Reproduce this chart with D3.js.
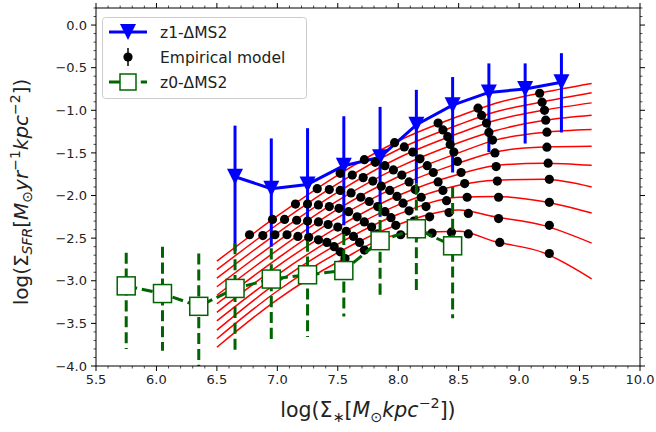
<!DOCTYPE html>
<html><head><meta charset="utf-8">
<script src="https://cdn.jsdelivr.net/npm/d3@7"></script>
<style>body{margin:0;background:#fff} svg{display:block} text{font-family:"DejaVu Sans",sans-serif}</style>
</head><body><svg id="c" width="656" height="432"></svg>
<script>
// ---- data ----
const blueX  = [6.65, 6.95, 7.25, 7.55, 7.85, 8.15, 8.45, 8.75, 9.05, 9.35];
const blueY  = [-1.78, -1.92, -1.87, -1.65, -1.55, -1.17, -0.94, -0.79, -0.75, -0.67];
const blueLo = [-2.65, -2.60, -2.45, -2.35, -2.25, -1.86, -1.73, -1.49, -1.39, -1.26];
const blueHi = [-1.18, -1.33, -1.21, -1.07, -0.96, -0.76, -0.61, -0.45, -0.45, -0.33];

const greenX  = [5.75, 6.05, 6.35, 6.65, 6.95, 7.25, 7.55, 7.85, 8.15, 8.45];
const greenY  = [-3.06, -3.15, -3.30, -3.09, -2.98, -2.93, -2.88, -2.53, -2.39, -2.59];
const greenLo = [-3.80, -3.82, -4.10, -3.84, -3.74, -3.66, -3.42, -3.20, -3.15, -3.44];
const greenHi = [-2.67, -2.60, -2.68, -2.56, -2.62, -2.53, -2.45, -2.10, -1.86, -1.90];

const curveX = [6.5, 7.0, 7.5, 8.0, 8.5, 8.8, 9.2, 9.6];
const curveY = [
  [-2.77, -2.24, -1.76, -1.36, -1.07, -0.92, -0.79, -0.685],
  [-2.87, -2.34, -1.86, -1.46, -1.17, -1.02, -0.90, -0.795],
  [-2.97, -2.44, -1.96, -1.56, -1.27, -1.12, -1.00, -0.913],
  [-3.07, -2.54, -2.06, -1.67, -1.38, -1.24, -1.12, -1.058],
  [-3.17, -2.64, -2.16, -1.78, -1.50, -1.35, -1.26, -1.226],
  [-3.27, -2.74, -2.26, -1.89, -1.62, -1.49, -1.43, -1.422],
  [-3.37, -2.83, -2.37, -2.00, -1.75, -1.65, -1.62, -1.645],
  [-3.47, -2.93, -2.47, -2.11, -1.88, -1.82, -1.81, -1.900],
  [-3.58, -3.02, -2.57, -2.22, -2.02, -2.01, -2.07, -2.205],
  [-3.68, -3.12, -2.67, -2.34, -2.17, -2.25, -2.35, -2.558],
  [-3.78, -3.22, -2.78, -2.46, -2.42, -2.54, -2.67, -2.977]
];

const dotX = [
  [6.77, 6.88, 6.98, 7.08, 7.17, 7.26, 7.34, 7.41, 7.47, 7.52, 7.56],
  [6.96, 7.06, 7.16, 7.25, 7.34, 7.42, 7.50, 7.57, 7.63, 7.68, 7.72],
  [7.15, 7.25, 7.34, 7.43, 7.51, 7.59, 7.66, 7.72, 7.78, 7.83, 7.87],
  [7.33, 7.43, 7.52, 7.61, 7.69, 7.76, 7.83, 7.89, 7.94, 7.98, 8.02],
  [7.52, 7.62, 7.71, 7.79, 7.86, 7.93, 7.99, 8.04, 8.09, 8.13, 8.16],
  [7.72, 7.81, 7.89, 7.96, 8.03, 8.09, 8.14, 8.19, 8.23, 8.26, 8.28],
  [7.97, 8.05, 8.12, 8.18, 8.24, 8.29, 8.33, 8.37, 8.40, 8.42, 8.44],
  [8.33, 8.37, 8.41, 8.43, 8.46, 8.49, 8.52, 8.55, 8.57, 8.58, 8.58],
  [8.66, 8.69, 8.73, 8.75, 8.78, 8.80, 8.81, 8.82, 8.83, 8.83, 8.84],
  [9.17, 9.19, 9.21, 9.22, 9.23, 9.23, 9.24, 9.25, 9.25, 9.25, 9.25]
];
const dotY = [
  [-2.46, -2.47, -2.46, -2.46, -2.48, -2.49, -2.52, -2.55, -2.60, -2.66, -2.74],
  [-2.28, -2.28, -2.29, -2.30, -2.31, -2.34, -2.37, -2.42, -2.48, -2.55, -2.64],
  [-2.10, -2.10, -2.11, -2.13, -2.15, -2.19, -2.25, -2.31, -2.37, -2.45, -2.54],
  [-1.92, -1.93, -1.94, -1.97, -2.02, -2.07, -2.13, -2.19, -2.26, -2.35, -2.46],
  [-1.74, -1.76, -1.79, -1.83, -1.89, -1.94, -2.01, -2.09, -2.18, -2.30, -2.45],
  [-1.58, -1.61, -1.65, -1.70, -1.76, -1.84, -1.93, -2.02, -2.13, -2.25, -2.44],
  [-1.38, -1.43, -1.49, -1.57, -1.65, -1.73, -1.84, -1.94, -2.06, -2.20, -2.43],
  [-1.15, -1.23, -1.31, -1.40, -1.49, -1.60, -1.73, -1.86, -2.02, -2.21, -2.45],
  [-0.975, -1.06, -1.15, -1.26, -1.35, -1.50, -1.66, -1.83, -2.02, -2.27, -2.55],
  [-0.80, -0.905, -1.00, -1.116, -1.257, -1.433, -1.621, -1.81, -2.08, -2.35, -2.68]
];

const xTicks = [5.5, 6.0, 6.5, 7.0, 7.5, 8.0, 8.5, 9.0, 9.5, 10.0];
const yTicks = [-4.0, -3.5, -3.0, -2.5, -2.0, -1.5, -1.0, -0.5, 0.0];
const legendLabels = ["z1-\u0394MS2", "Empirical model", "z0-\u0394MS2"];

// ---- drawing ----
const svg = d3.select('#c');
const L = 96, R = 640, T = 8, B = 366;
const x = d3.scaleLinear().domain([5.5, 10]).range([L, R]);
const y = d3.scaleLinear().domain([-4, 0.2]).range([B, T]);

svg.append('defs').append('clipPath').attr('id', 'clip')
  .append('rect').attr('x', L).attr('y', T).attr('width', R - L).attr('height', B - T);
const g = svg.append('g').attr('clip-path', 'url(#clip)');

// red model curves
const cline = d3.line().x(d => x(d[0])).y(d => y(d[1])).curve(d3.curveMonotoneX);
curveY.forEach(arr => {
  g.append('path').attr('d', cline(curveX.map((v, i) => [v, arr[i]])))
    .attr('fill', 'none').attr('stroke', 'red').attr('stroke-width', 1.5);
});

const BLUE = '#0000ff', GREEN = '#006400';
const tri = s => `M0,${s/2}L${-s/2},${-s/2}L${s/2},${-s/2}Z`;

// blue series
blueX.forEach((v, i) => {
  g.append('line').attr('x1', x(v)).attr('x2', x(v)).attr('y1', y(blueLo[i])).attr('y2', y(blueHi[i]))
    .attr('stroke', BLUE).attr('stroke-width', 3);
});
const lin = d3.line().x(d => x(d[0])).y(d => y(d[1]));
g.append('path').attr('d', lin(blueX.map((v, i) => [v, blueY[i]])))
  .attr('fill', 'none').attr('stroke', BLUE).attr('stroke-width', 3).attr('stroke-linejoin', 'round');
blueX.forEach((v, i) => {
  g.append('path').attr('d', tri(16)).attr('transform', `translate(${x(v)},${y(blueY[i])})`).attr('fill', BLUE);
});

// empirical model dots
dotX.forEach((arr, j) => arr.forEach((v, k) => {
  g.append('circle').attr('cx', x(v)).attr('cy', y(dotY[j][k])).attr('r', 4.6).attr('fill', 'black');
}));

// green series
greenX.forEach((v, i) => {
  g.append('line').attr('x1', x(v)).attr('x2', x(v)).attr('y1', y(greenHi[i])).attr('y2', y(greenLo[i]))
    .attr('stroke', GREEN).attr('stroke-width', 3).attr('stroke-dasharray', '11.1,4.8');
});
g.append('path').attr('d', lin(greenX.map((v, i) => [v, greenY[i]])))
  .attr('fill', 'none').attr('stroke', GREEN).attr('stroke-width', 3).attr('stroke-dasharray', '11.1,4.8');
greenX.forEach((v, i) => {
  g.append('rect').attr('x', x(v) - 9).attr('y', y(greenY[i]) - 9).attr('width', 18).attr('height', 18)
    .attr('fill', 'white').attr('stroke', GREEN).attr('stroke-width', 1.5);
});

// ---- axes ----
const ax = svg.append('g');
ax.append('rect').attr('x', L).attr('y', T).attr('width', R - L).attr('height', B - T)
  .attr('fill', 'none').attr('stroke', 'black').attr('stroke-width', 1);
const fmt = d3.format('.1f');
const xMinor = d3.range(55, 101).map(v => v / 10);
const yMinor = d3.range(-40, 3).map(v => v / 10);
xMinor.forEach(v => {
  const major = xTicks.some(t => Math.abs(t - v) < 1e-6);
  const len = major ? 5 : 2.5;
  ax.append('line').attr('x1', x(v)).attr('x2', x(v)).attr('y1', B).attr('y2', B + len).attr('stroke', 'black').attr('stroke-width', major ? 1 : 0.7);
  ax.append('line').attr('x1', x(v)).attr('x2', x(v)).attr('y1', T).attr('y2', T - len).attr('stroke', 'black').attr('stroke-width', major ? 1 : 0.7);
});
yMinor.forEach(v => {
  const major = yTicks.some(t => Math.abs(t - v) < 1e-6);
  const len = major ? 5 : 2.5;
  ax.append('line').attr('x1', L).attr('x2', L - len).attr('y1', y(v)).attr('y2', y(v)).attr('stroke', 'black').attr('stroke-width', major ? 1 : 0.7);
  ax.append('line').attr('x1', R).attr('x2', R + len).attr('y1', y(v)).attr('y2', y(v)).attr('stroke', 'black').attr('stroke-width', major ? 1 : 0.7);
});
xTicks.forEach(v => {
  ax.append('text').attr('x', x(v)).attr('y', B + 18).attr('text-anchor', 'middle')
    .attr('font-size', 13).attr('fill', '#222').text(fmt(v));
});
yTicks.forEach(v => {
  ax.append('text').attr('x', L - 9).attr('y', y(v)).attr('dy', '0.36em').attr('text-anchor', 'end')
    .attr('font-size', 13).attr('fill', '#222').text(fmt(v));
});

// math-like labels
function mathText(sel, parts, size) {
  let off = 0;
  parts.forEach(p => {
    const fs = (p.sub || p.sup) ? size * 0.7 : size;
    const target = p.sub ? size * 0.22 : (p.sup ? -size * 0.42 : 0);
    sel.append('tspan').attr('font-size', fs).attr('dy', target - off)
      .attr('font-style', p.it ? 'italic' : 'normal').text(p.t);
    off = target;
  });
}
const xl = svg.append('text').attr('x', 368).attr('y', 417).attr('text-anchor', 'middle').attr('fill', '#222');
mathText(xl, [{t: 'log('}, {t: '\u03A3'}, {t: '\u2217', sub: true}, {t: '['}, {t: 'M', it: true},
  {t: '\u2299', sub: true}, {t: 'kpc', it: true}, {t: '\u22122', sup: true}, {t: '])'}], 20.5);
const yl = svg.append('text').attr('transform', 'translate(28,192) rotate(-90)').attr('text-anchor', 'middle').attr('fill', '#222');
mathText(yl, [{t: 'log('}, {t: '\u03A3'}, {t: 'SFR', sub: true, it: true}, {t: '['}, {t: 'M', it: true},
  {t: '\u2299', sub: true}, {t: 'yr', it: true}, {t: '\u22121', sup: true}, {t: 'kpc', it: true},
  {t: '\u22122', sup: true}, {t: '])'}], 20);

// ---- legend ----
const lg = svg.append('g');
lg.append('rect').attr('x', 102.5).attr('y', 17.5).attr('width', 204).attr('height', 81).attr('rx', 3)
  .attr('fill', 'white').attr('fill-opacity', 0.8).attr('stroke', '#cccccc').attr('stroke-width', 1);
const ly = [32, 57, 82];
lg.append('line').attr('x1', 109).attr('x2', 147).attr('y1', ly[0]).attr('y2', ly[0]).attr('stroke', BLUE).attr('stroke-width', 3);
lg.append('path').attr('d', tri(16)).attr('transform', `translate(128,${ly[0]})`).attr('fill', BLUE);
lg.append('line').attr('x1', 128).attr('x2', 128).attr('y1', ly[1] - 9).attr('y2', ly[1] + 9).attr('stroke', 'black').attr('stroke-width', 1.5);
lg.append('circle').attr('cx', 128).attr('cy', ly[1]).attr('r', 4.6).attr('fill', 'black');
lg.append('line').attr('x1', 109).attr('x2', 147).attr('y1', ly[2]).attr('y2', ly[2]).attr('stroke', GREEN).attr('stroke-width', 3).attr('stroke-dasharray', '11.1,4.8');
lg.append('rect').attr('x', 120).attr('y', ly[2] - 8).attr('width', 16).attr('height', 16).attr('fill', 'white').attr('stroke', GREEN).attr('stroke-width', 1.5);
legendLabels.forEach((t, i) => {
  lg.append('text').attr('x', 160).attr('y', ly[i]).attr('dy', '0.36em').attr('font-size', 15.5).attr('fill', '#222').text(t);
});
</script></body></html>
